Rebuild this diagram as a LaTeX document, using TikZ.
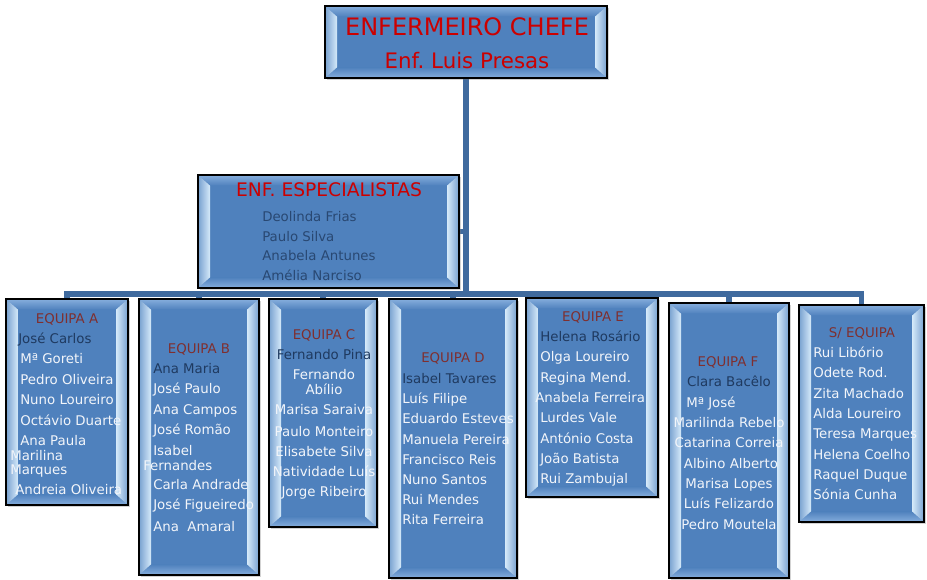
\documentclass[tikz,border=0pt]{standalone}
\usepackage{fontspec}
\setmainfont{DejaVu Sans}
\frenchspacing
\usetikzlibrary{fit,calc,shadows,backgrounds}
\definecolor{caixaazul}{HTML}{4F81BD}
\definecolor{caixaclara}{HTML}{D6EAFA}
\definecolor{caixatopo}{HTML}{86AEDD}
\definecolor{ligacao}{HTML}{3F6A9E}
\definecolor{vermelho}{HTML}{CC0000}
\definecolor{equiparubro}{HTML}{7F2F2F}
\definecolor{marinho}{HTML}{1F3A60}
\definecolor{nomeclaro}{HTML}{F2F5FA}
\tikzset{
  caixa/.style={draw=black, line width=1.4pt, fill=caixaazul, inner sep=0pt,
    drop shadow={opacity=.35, shadow xshift=1.5pt, shadow yshift=-1.5pt},
    path picture={
      \coordinate (pa) at (path picture bounding box.north west);
      \coordinate (pb) at (path picture bounding box.south east);
      \shade[top color=caixatopo, bottom color=caixaazul] (pa) -- (pa -| pb) -- ($(pa -| pb)+(-9pt,-8pt)$) -- ($(pa)+(9pt,-8pt)$) -- cycle;
      \shade[top color=caixaazul, bottom color=caixatopo] (pa |- pb) -- (pb) -- ($(pb)+(-9pt,8pt)$) -- ($(pa |- pb)+(9pt,8pt)$) -- cycle;
      \shade[left color=caixaazul!70!caixaclara, right color=caixaclara] (pa) -- ($(pa)+(9pt,-8pt)$) -- ($(pa |- pb)+(9pt,8pt)$) -- (pa |- pb) -- cycle;
      \shade[left color=caixaclara, right color=caixaazul!70!caixaclara] (pa -| pb) -- ($(pa -| pb)+(-9pt,-8pt)$) -- ($(pb)+(-9pt,8pt)$) -- (pb) -- cycle;
    }},
  liga/.style={draw=ligacao, line width=4pt},
  nome/.style={anchor=west, inner sep=0pt, text height=7.3pt, text depth=0pt, font=\fontsize{10}{12}\selectfont, text=nomeclaro},
  nomec/.style={nome, anchor=center},
  lider/.style={nome, text=marinho},
  espec/.style={nome, text=marinho!80!caixaazul},
  equipa/.style={nome, anchor=center, text=equiparubro},
  tchefe/.style={anchor=center, inner sep=0pt, text height=13.1pt, text depth=0pt, font=\fontsize{18}{20}\selectfont, text=vermelho},
  tnome/.style={tchefe, text height=11.7pt, font=\fontsize{16}{18}\selectfont},
  tespec/.style={tchefe, text height=10.2pt, font=\fontsize{14}{16}\selectfont},
}

\begin{document}
\begin{tikzpicture}[x=0.75pt, y=-0.75pt]
  \useasboundingbox (0,0) rectangle (927,579);

  % caixas
  \node[caixa, fit={(325,6) (607,78)}] (chefe) {};
  \node[caixa, fit={(198,175) (459,288)}] (esp) {};
  \node[caixa, fit={(6,299) (128,505)}] (eqA) {};
  \node[caixa, fit={(139,299) (259,575)}] (eqB) {};
  \node[caixa, fit={(269,299) (377,527)}] (eqC) {};
  \node[caixa, fit={(389,299) (517,578)}] (eqD) {};
  \node[caixa, fit={(526,298) (658,497)}] (eqE) {};
  \node[caixa, fit={(669,303) (789,578)}] (eqF) {};
  \node[caixa, fit={(799,305) (924,522)}] (semeq) {};

  % ligacoes
  \coordinate (juncao) at (466,294);
  \begin{scope}[on background layer]
    \draw[liga] (chefe.south) -- (juncao);
    \draw[liga] (esp.east) -- (esp.east -| chefe.south);
    \draw[liga] (juncao) -| (eqA.north);
    \draw[liga] (juncao) -| (eqB.north);
    \draw[liga] (juncao) -| (eqC.north);
    \draw[liga] (juncao) -| (eqD.north);
    \draw[liga] (juncao) -| (eqE.north);
    \draw[liga] (juncao) -| (eqF.north);
    \draw[liga] (juncao) -| (semeq.north);
  \end{scope}

  \node[tchefe] (chefeT) at (467,27) {ENFERMEIRO CHEFE};
  \node[tnome] (chefeN) at (467,61) {Enf. Luis Presas};

  \node[tespec] (espT) at (329,190) {ENF. ESPECIALISTAS};
  \node[espec] (esp1) at (262,216.5) {Deolinda Frias};
  \node[espec] (esp2) at (262,236.5) {Paulo Silva};
  \node[espec] (esp3) at (262,256) {Anabela Antunes};
  \node[espec] (esp4) at (262,276) {Amélia Narciso};

  % equipa A
  \node[equipa] (aT) at (67,319) {EQUIPA A};
  \node[lider] (a1) at (18,339) {José Carlos};
  \node[nome] (a2) at (20,359) {Mª Goreti};
  \node[nome] (a3) at (20,380) {Pedro Oliveira};
  \node[nome] (a4) at (20,400) {Nuno Loureiro};
  \node[nome] (a5) at (20,420.5) {Octávio Duarte};
  \node[nome] (a6) at (20,441) {Ana Paula};
  \node[nome] (a7) at (10,456) {Marilina};
  \node[nome] (a8) at (10,470) {Marques};
  \node[nome] (a9) at (15,490) {Andreia Oliveira};

  % equipa B
  \node[equipa] (bT) at (199,349) {EQUIPA B};
  \node[lider] (b1) at (153,369) {Ana Maria};
  \node[nome] (b2) at (153,389) {José Paulo};
  \node[nome] (b3) at (153,410) {Ana Campos};
  \node[nome] (b4) at (153,430) {José Romão};
  \node[nome] (b5) at (153,450.5) {Isabel};
  \node[nome] (b6) at (143,465.5) {Fernandes};
  \node[nome] (b7) at (153,485) {Carla Andrade};
  \node[nome] (b8) at (153,505) {José Figueiredo};
  \node[nome] (b9) at (153,526.5) {Ana~~Amaral};

  % equipa C
  \node[equipa] (cT) at (324,335) {EQUIPA C};
  \node[lider, anchor=center] (c1) at (324,355) {Fernando Pina};
  \node[nomec] (c2) at (324,375) {Fernando};
  \node[nomec] (c3) at (324,390) {Abílio};
  \node[nomec] (c4) at (324,410) {Marisa Saraiva};
  \node[nomec] (c5) at (324,431.5) {Paulo Monteiro};
  \node[nomec] (c6) at (324,451.5) {Elisabete Silva};
  \node[nomec] (c7) at (324,471.5) {Natividade Luís};
  \node[nomec] (c8) at (324,491.5) {Jorge Ribeiro};

  % equipa D
  \node[equipa] (dT) at (453,358) {EQUIPA D};
  \node[lider] (d1) at (402,379) {Isabel Tavares};
  \node[nome] (d2) at (402,399) {Luís Filipe};
  \node[nome] (d3) at (402,419) {Eduardo Esteves};
  \node[nome] (d4) at (402,439.5) {Manuela Pereira};
  \node[nome] (d5) at (402,459.5) {Francisco Reis};
  \node[nome] (d6) at (402,480) {Nuno Santos};
  \node[nome] (d7) at (402,500) {Rui Mendes};
  \node[nome] (d8) at (402,520) {Rita Ferreira};

  % equipa E
  \node[equipa] (eT) at (593,317) {EQUIPA E};
  \node[lider] (e1) at (540,337) {Helena Rosário};
  \node[nome] (e2) at (540,357) {Olga Loureiro};
  \node[nome] (e3) at (540,377.5) {Regina Mend.};
  \node[nome] (e4) at (535,398) {Anabela Ferreira};
  \node[nome] (e5) at (540,418) {Lurdes Vale};
  \node[nome] (e6) at (540,438.5) {António Costa};
  \node[nome] (e7) at (540,459) {João Batista};
  \node[nome] (e8) at (540,479) {Rui Zambujal};

  % equipa F
  \node[equipa] (fT) at (728,362) {EQUIPA F};
  \node[lider, anchor=center] (f1) at (729,382) {Clara Bacêlo};
  \node[nome] (f2) at (686,402.5) {Mª José};
  \node[nomec] (f3) at (729,423) {Marilinda Rebelo};
  \node[nomec] (f4) at (729,443) {Catarina Correia};
  \node[nomec] (f5) at (731,463.5) {Albino Alberto};
  \node[nomec] (f6) at (729,484) {Marisa Lopes};
  \node[nomec] (f7) at (729,504) {Luís Felizardo};
  \node[nomec] (f8) at (729,524.5) {Pedro Moutela};

  % sem equipa
  \node[equipa] (sT) at (862,333) {S/ EQUIPA};
  \node[nome] (s1) at (813,353) {Rui Libório};
  \node[nome] (s2) at (813,373) {Odete Rod.};
  \node[nome] (s3) at (813,394) {Zita Machado};
  \node[nome] (s4) at (813,414) {Alda Loureiro};
  \node[nome] (s5) at (813,434) {Teresa Marques};
  \node[nome] (s6) at (813,454.5) {Helena Coelho};
  \node[nome] (s7) at (813,474.5) {Raquel Duque};
  \node[nome] (s8) at (813,495) {Sónia Cunha};
\end{tikzpicture}
\end{document}
